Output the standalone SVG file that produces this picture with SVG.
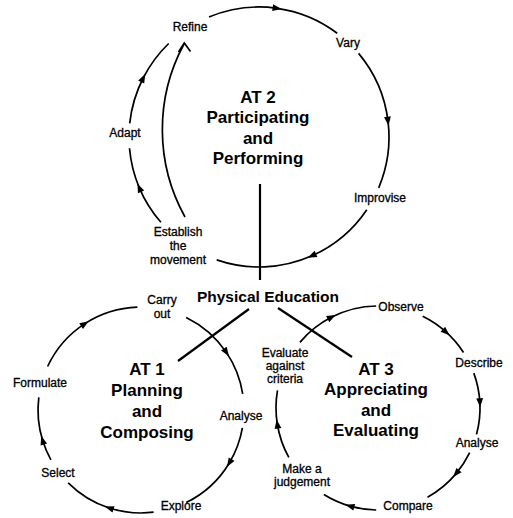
<svg xmlns="http://www.w3.org/2000/svg" width="513" height="518" viewBox="0 0 513 518">
  <style>
    .arc { fill: none; stroke: #000; stroke-width: 1.7; marker-mid: url(#tri); }
    .plain { fill: none; stroke: #000; stroke-width: 1.7; }
    .link { fill: none; stroke: #000; stroke-width: 2.2; }
    .lbl { font-family: "Liberation Sans", Arial, sans-serif; font-size: 12px; fill: #000; stroke: #000; stroke-width: 0.3; text-anchor: middle; }
    .title { font-family: "Liberation Sans", Arial, sans-serif; font-size: 17px; font-weight: bold; fill: #000; text-anchor: middle; }
    .hub { font-family: "Liberation Sans", Arial, sans-serif; font-size: 15.5px; font-weight: bold; fill: #000; text-anchor: middle; }
  </style>
  <defs>
    <marker id="tri" markerUnits="userSpaceOnUse" markerWidth="12" markerHeight="12" viewBox="-6 -6 12 12" refX="0" refY="0" orient="auto">
      <path d="M-4.5,-3.4 L4.5,0 L-4.5,3.4 Z" fill="#000"/>
    </marker>
  </defs>
  <rect width="513" height="518" fill="#fff"/>

  <!-- connectors: cycle arcs and the links to Physical Education -->
  <g id="connectors">
    <!-- AT 2 cycle, centre (259,137) r 130 -->
    <path class="arc" d="M209,17 A130,130 0 0 1 277.1,8.3 A130,130 0 0 1 337.2,33.2"/>
    <path class="arc" d="M358.6,53.4 A130,130 0 0 1 388,121.2 A130,130 0 0 1 378.7,187.8"/>
    <path class="arc" d="M366.8,209.7 A130,130 0 0 1 311.9,255.8 A130,130 0 0 1 216.7,259.9"/>
    <path class="arc" d="M160.9,222.3 A130,130 0 0 1 139.3,187.8 A130,130 0 0 1 129.5,148.3"/>
    <path class="arc" d="M129.7,123.4 A130,130 0 0 1 143.2,78 A130,130 0 0 1 168.7,43.5"/>
    <!-- shortcut from Establish the movement straight to Refine -->
    <path class="plain" d="M185,217 A180,180 0 0 1 184,44"/>
    <path class="plain" d="M178.5,52 L184.3,43 L190.5,51.5"/>

    <!-- AT 1 cycle, centre (141,410) r 103 -->
    <path class="arc" d="M47.6,366.5 A103,103 0 0 1 84.9,323.6 A103,103 0 0 1 137.4,307.1"/>
    <path class="arc" d="M186.2,317.4 A103,103 0 0 1 226.4,352.4 A103,103 0 0 1 242.7,393.9"/>
    <path class="arc" d="M242.4,427.9 A103,103 0 0 1 229.3,463 A103,103 0 0 1 186.2,502.6"/>
    <path class="arc" d="M153.6,512.2 A103,103 0 0 1 109.2,508 A103,103 0 0 1 68.2,482.8"/>
    <path class="arc" d="M50.9,459.9 A103,103 0 0 1 42.5,440.1 A103,103 0 0 1 38.8,397.4"/>

    <!-- AT 3 cycle, centre (378,408) r 102 -->
    <path class="arc" d="M299.9,342.4 A102,102 0 0 1 331.7,317.1 A102,102 0 0 1 376.2,306"/>
    <path class="arc" d="M422.7,316.3 A102,102 0 0 1 446.2,332.2 A102,102 0 0 1 463.5,352.5"/>
    <path class="arc" d="M473.8,373.1 A102,102 0 0 1 479.9,402.7 A102,102 0 0 1 476.5,434.4"/>
    <path class="arc" d="M469.7,452.7 A102,102 0 0 1 456.1,473.6 A102,102 0 0 1 427.5,497.2"/>
    <path class="arc" d="M376.2,510 A102,102 0 0 1 349.9,506.1 A102,102 0 0 1 323.9,494.5"/>
    <path class="arc" d="M288.8,457.4 A102,102 0 0 1 277.3,424 A102,102 0 0 1 277.5,390.3"/>

    <!-- links to the hub -->
    <line class="link" x1="260" y1="184" x2="260" y2="280"/>
    <line class="link" x1="249" y1="309" x2="178" y2="361"/>
    <line class="link" x1="278" y1="308" x2="352" y2="357"/>
  </g>

  <g id="hub">
    <text class="hub" x="268" y="302">Physical Education</text>
  </g>

  <g id="at2">
    <text class="title" x="258" y="103">AT 2</text>
    <text class="title" x="258" y="123">Participating</text>
    <text class="title" x="258" y="144">and</text>
    <text class="title" x="258" y="164">Performing</text>
  </g>
  <g id="at2-refine"><text class="lbl" x="190" y="31">Refine</text></g>
  <g id="at2-vary"><text class="lbl" x="348" y="47">Vary</text></g>
  <g id="at2-improvise"><text class="lbl" x="380" y="202">Improvise</text></g>
  <g id="at2-establish">
    <text class="lbl" x="178" y="236">Establish</text>
    <text class="lbl" x="178" y="250">the</text>
    <text class="lbl" x="178" y="264">movement</text>
  </g>
  <g id="at2-adapt"><text class="lbl" x="125" y="137">Adapt</text></g>

  <g id="at1">
    <text class="title" x="147" y="375">AT 1</text>
    <text class="title" x="147" y="396">Planning</text>
    <text class="title" x="147" y="417">and</text>
    <text class="title" x="147" y="438">Composing</text>
  </g>
  <g id="at1-carry">
    <text class="lbl" x="162" y="304">Carry</text>
    <text class="lbl" x="162" y="318">out</text>
  </g>
  <g id="at1-analyse"><text class="lbl" x="241" y="420">Analyse</text></g>
  <g id="at1-explore"><text class="lbl" x="181" y="510">Explore</text></g>
  <g id="at1-select"><text class="lbl" x="58" y="477">Select</text></g>
  <g id="at1-formulate"><text class="lbl" x="40" y="387">Formulate</text></g>

  <g id="at3">
    <text class="title" x="376" y="375">AT 3</text>
    <text class="title" x="376" y="395">Appreciating</text>
    <text class="title" x="376" y="416">and</text>
    <text class="title" x="376" y="436">Evaluating</text>
  </g>
  <g id="at3-observe"><text class="lbl" x="401" y="311">Observe</text></g>
  <g id="at3-describe"><text class="lbl" x="479" y="367">Describe</text></g>
  <g id="at3-analyse"><text class="lbl" x="477" y="447">Analyse</text></g>
  <g id="at3-compare"><text class="lbl" x="408" y="510">Compare</text></g>
  <g id="at3-judgement">
    <text class="lbl" x="302" y="473">Make a</text>
    <text class="lbl" x="302" y="486">judgement</text>
  </g>
  <g id="at3-evaluate">
    <text class="lbl" x="285" y="357">Evaluate</text>
    <text class="lbl" x="285" y="370">against</text>
    <text class="lbl" x="285" y="383">criteria</text>
  </g>
</svg>
